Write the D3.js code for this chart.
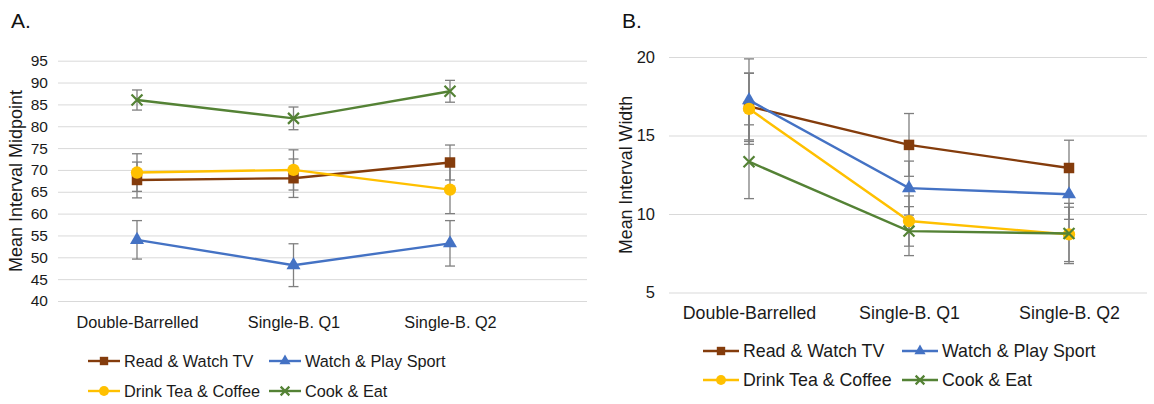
<!DOCTYPE html>
<html>
<head>
<meta charset="utf-8">
<script src="https://cdn.jsdelivr.net/npm/d3@7"></script>
<style>
  body { margin: 0; background: #fff; }
  svg { font-family: "Liberation Sans", Arial, sans-serif; }
</style>
</head>
<body>
<svg id="chart" width="1154" height="404"></svg>
<script>
// categories and series
const categories = ["Double-Barrelled", "Single-B. Q1", "Single-B. Q2"];
const seriesNames = ["Read & Watch TV", "Watch & Play Sport", "Drink Tea & Coffee", "Cook & Eat"];
const seriesColors = ["#843C0C", "#4472C4", "#FFC000", "#548235"];
const seriesMarkers = ["square", "triangle", "circle", "x"];

// panel A: mean interval midpoint (+/- error)
const midRead  = [67.7, 68.1, 71.7];
const midSport = [54.0, 48.2, 53.2];
const midTea   = [69.4, 70.0, 65.5];
const midCook  = [86.0, 81.8, 88.0];
const midReadErr  = [4.1, 4.4, 4.0];
const midSportErr = [4.4, 4.9, 5.2];
const midTeaErr   = [4.3, 4.6, 5.5];
const midCookErr  = [2.3, 2.6, 2.5];
const midTicks = [40, 45, 50, 55, 60, 65, 70, 75, 80, 85, 90, 95];

// panel B: mean interval width (+/- error)
const widRead  = [16.85, 14.4, 12.93];
const widSport = [17.25, 11.65, 11.26];
const widTea   = [16.7, 9.55, 8.7];
const widCook  = [13.33, 8.91, 8.76];
const widReadErr  = [2.13, 2.0, 1.77];
const widSportErr = [2.63, 1.72, 1.6];
const widTeaErr   = [2.26, 1.6, 1.73];
const widCookErr  = [2.35, 1.56, 1.92];
const widTicks = [5, 10, 15, 20];

const svg = d3.select("#chart");

function drawPanel(p) {
  const g = svg.append("g");
  const x = d3.scalePoint().domain(categories).range(p.xRange);
  const y = d3.scaleLinear().domain(p.yDomain).range(p.yRange);

  // panel letter
  g.append("text").attr("x", p.letterX).attr("y", 28)
    .attr("font-size", 21).attr("fill", "#111").text(p.letter);

  // y axis with gridlines
  const yAxis = g.append("g")
    .attr("transform", `translate(${p.gridX[0]},0)`)
    .call(d3.axisLeft(y).tickValues(p.ticks)
      .tickSize(-(p.gridX[1] - p.gridX[0])).tickPadding(p.tickPad));
  yAxis.select(".domain").remove();
  yAxis.selectAll(".tick line").attr("stroke", "#d9d9d9").attr("stroke-width", 1);
  yAxis.selectAll(".tick text").attr("font-size", p.tickFont).attr("fill", "#1a1a1a")
    .attr("font-family", "Liberation Sans, Arial, sans-serif");

  // x axis labels
  const xAxis = g.append("g")
    .attr("transform", `translate(0,${p.xLabelY})`)
    .call(d3.axisBottom(x).tickSize(0).tickPadding(0));
  xAxis.select(".domain").remove();
  xAxis.selectAll(".tick text").attr("font-size", p.labelFont).attr("fill", "#1a1a1a")
    .attr("font-family", "Liberation Sans, Arial, sans-serif");

  // y title
  g.append("text")
    .attr("transform", `translate(${p.titleX},${p.titleY}) rotate(-90)`)
    .attr("text-anchor", "middle").attr("dominant-baseline", "middle")
    .attr("font-size", p.titleFont).attr("fill", "#1a1a1a").text(p.title);

  // error bars
  p.values.forEach((vals, s) => {
    vals.forEach((v, i) => {
      const e = p.errors[s][i];
      const cx = x(categories[i]);
      const eg = g.append("g").attr("stroke", "#7f7f7f").attr("stroke-width", 1.3);
      eg.append("line").attr("x1", cx).attr("x2", cx).attr("y1", y(v - e)).attr("y2", y(v + e));
      [v - e, v + e].forEach(t => {
        eg.append("line").attr("x1", cx - 5).attr("x2", cx + 5).attr("y1", y(t)).attr("y2", y(t));
      });
    });
  });

  // lines and markers
  const line = d3.line().x((d, i) => x(categories[i])).y(d => y(d));
  p.values.forEach((vals, s) => {
    g.append("path").datum(vals).attr("d", line)
      .attr("fill", "none").attr("stroke", seriesColors[s]).attr("stroke-width", 2.4);
    vals.forEach((v, i) => {
      drawMarker(g, seriesMarkers[s], seriesColors[s], x(categories[i]), y(v), 1);
    });
  });

  // legend
  seriesNames.forEach((name, s) => {
    const col = s % 2, row = Math.floor(s / 2);
    const lx = p.legendX[col], ly = p.legendY[row];
    g.append("line").attr("x1", lx).attr("x2", lx + p.legendLine)
      .attr("y1", ly).attr("y2", ly)
      .attr("stroke", seriesColors[s]).attr("stroke-width", 2.4);
    drawMarker(g, seriesMarkers[s], seriesColors[s], lx + p.legendLine / 2, ly, 0.8);
    g.append("text").attr("x", lx + p.legendLine + 4).attr("y", ly)
      .attr("dominant-baseline", "central")
      .attr("font-size", p.labelFont).attr("fill", "#1a1a1a").text(name);
  });
}

function drawMarker(g, type, color, cx, cy, k) {
  let sym, size;
  if (type === "square") { sym = d3.symbolSquare; size = 110 * k * k; }
  else if (type === "triangle") { sym = d3.symbolTriangle; size = 85 * k * k; }
  else if (type === "circle") { sym = d3.symbolCircle; size = 120 * k * k; }
  else { sym = d3.symbolX; size = 80 * k * k; }
  const path = g.append("path")
    .attr("d", d3.symbol().type(sym).size(size)())
    .attr("transform", `translate(${cx},${cy})`);
  if (type === "x") {
    path.attr("fill", "none").attr("stroke", color).attr("stroke-width", 2.2);
  } else {
    path.attr("fill", color);
  }
}

drawPanel({
  letter: "A.", letterX: 11,
  xRange: [137, 450], gridX: [58, 587],
  yDomain: [40, 95], yRange: [301, 60.7], ticks: midTicks,
  tickPad: 10, tickFont: 15.5,
  xLabelY: 316, labelFont: 16.3,
  title: "Mean Interval Midpoint", titleX: 17, titleY: 181, titleFont: 18,
  values: [midRead, midSport, midTea, midCook],
  errors: [midReadErr, midSportErr, midTeaErr, midCookErr],
  legendX: [88, 269], legendY: [361, 391], legendLine: 32
});

drawPanel({
  letter: "B.", letterX: 622,
  xRange: [749, 1069], gridX: [669, 1147],
  yDomain: [5, 20], yRange: [292.5, 57], ticks: widTicks,
  tickPad: 14, tickFont: 16.5,
  xLabelY: 306, labelFont: 17.8,
  title: "Mean Interval Width", titleX: 627, titleY: 175, titleFont: 17.8,
  values: [widRead, widSport, widTea, widCook],
  errors: [widReadErr, widSportErr, widTeaErr, widCookErr],
  legendX: [703, 902], legendY: [351, 380], legendLine: 36
});
</script>
</body>
</html>
